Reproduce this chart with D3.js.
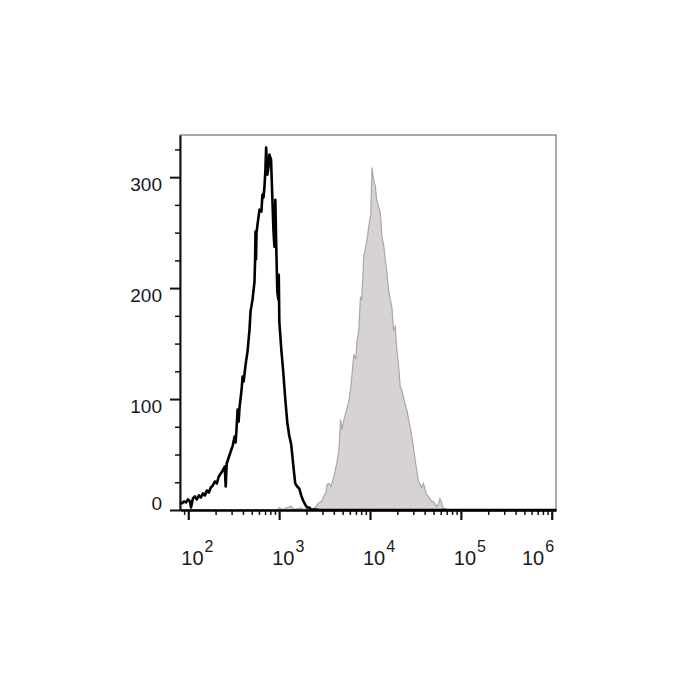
<!DOCTYPE html>
<html lang="en">
<head>
    <meta charset="UTF-8">
    <title>Flow cytometry histogram</title>
    <script src="https://d3js.org/d3.v7.min.js"></script>
    <style>
        body { margin: 0; background: #fff; }
        text { font-family: "Liberation Sans", Arial, sans-serif; fill: #1a1a1a; }
    </style>
</head>
<body>
    <svg id="chart" width="700" height="700"></svg>
    <script>
        // log10 fluorescence / event count
        const ctrlLog = [1.909, 1.931, 1.953, 1.975, 1.997, 2.019, 2.030, 2.051, 2.073, 2.095,
            2.117, 2.139, 2.161, 2.183, 2.204, 2.226, 2.248, 2.270, 2.292, 2.314,
            2.336, 2.357, 2.379, 2.401, 2.412, 2.423, 2.445, 2.467, 2.489, 2.510,
            2.521, 2.532, 2.543, 2.554, 2.565, 2.587, 2.598, 2.609, 2.631, 2.652,
            2.674, 2.685, 2.707, 2.729, 2.735, 2.740, 2.746, 2.751, 2.762, 2.784,
            2.805, 2.816, 2.827, 2.838, 2.849, 2.857, 2.871, 2.882, 2.893, 2.911,
            2.926, 2.937, 2.948, 2.958, 2.969, 2.980, 2.991, 2.996, 3.002, 3.024,
            3.046, 3.068, 3.090, 3.111, 3.133, 3.155, 3.177, 3.199, 3.221, 3.243,
            3.264, 3.286, 3.308, 3.330, 3.352, 3.396, 3.450, 6.050];
        const ctrlCount = [6.8, 5.9, 7.7, 6.8, 9.5, 7.7, 2.3, 10.4, 12.2, 9.5,
            13.1, 11.3, 14.9, 13.1, 17.6, 15.8, 20.3, 22.1, 25.7, 23.9,
            30.2, 32.9, 35.6, 39.2, 21.2, 41.9, 47.3, 52.7, 58.1, 66.2,
            60.8, 74.3, 90.5, 79.7, 93.2, 108.6, 120.3, 115.8, 131.1, 142.8,
            162.6, 178.8, 189.6, 205.9, 224, 251, 226, 250, 257.2, 270.7,
            268.9, 284.2, 281.5, 290.5, 306.8, 326.6, 302.3, 308.6, 320.3, 315.8,
            279.7, 252.7, 237.4, 279.7, 234.7, 196.8, 189.6, 212, 169.8, 144.6,
            123.9, 99.5, 78.8, 67.1, 59, 41, 23.9, 21.2, 19.4, 13.1,
            8.6, 5, 2.3, 2.3, 0.5, 0.5, 0, 0];

        const stainLog = [1.909, 2.980, 3.002, 3.035, 3.130, 3.166, 3.239, 3.275, 3.330, 3.363,
            3.407, 3.439, 3.461, 3.494, 3.516, 3.527, 3.549, 3.570, 3.603, 3.636,
            3.658, 3.677, 3.691, 3.713, 3.734, 3.767, 3.789, 3.800, 3.822, 3.844,
            3.855, 3.877, 3.895, 3.909, 3.931, 3.953, 3.975, 3.986, 4.008, 4.022,
            4.040, 4.059, 4.073, 4.095, 4.114, 4.131, 4.150, 4.168, 4.186, 4.204,
            4.223, 4.240, 4.259, 4.278, 4.295, 4.314, 4.332, 4.350, 4.368, 4.404,
            4.441, 4.478, 4.496, 4.532, 4.568, 4.587, 4.623, 4.642, 4.678, 4.696,
            4.732, 4.751, 4.770, 4.784, 4.805, 4.827, 4.860, 6.050];
        const stainCount = [0, 0, 2.3, 0.5, 3.4, 0.5, 2.0, 0.5, 1, 0,
            3.2, 6.8, 6.8, 13.1, 15.8, 23, 23.9, 21.2, 30.2, 42.8,
            54.5, 81.5, 72.5, 81.5, 87.8, 97.7, 111.3, 120.3, 140.1, 135.6,
            150.9, 162.6, 192.3, 189.6, 228.4, 237.4, 248.2, 255.4, 266.2, 308.6,
            297.7, 291.4, 279.7, 273.4, 268, 246.4, 239.2, 225.7, 214, 198.6,
            189.6, 183.3, 162.6, 165.3, 144.6, 131.1, 111.3, 108.6, 101.4, 90.5,
            75.2, 57.2, 45.5, 26.6, 20.3, 23.9, 14, 12.2, 7.7, 7.7,
            3.2, 5, 10.4, 7.7, 1.4, 1.4, 0, 0];

        const yTicks = [0, 100, 200, 300];
        const decades = [2, 3, 4, 5, 6];

        const svg = d3.select("#chart");
        const mLeft = 180, mRight = 556, mTop = 135, mBottom = 510;

        const x = d3.scaleLog().domain([10 ** 1.909, 10 ** 6.047]).range([mLeft, mRight]);
        const y = d3.scaleLinear().domain([0, 338]).range([mBottom, mTop]);

        const ctrl = ctrlLog.map((v, i) => ({ v: 10 ** v, c: ctrlCount[i] }));
        const stain = stainLog.map((v, i) => ({ v: 10 ** v, c: stainCount[i] }));

        // frame
        svg.append("rect")
            .attr("x", mLeft).attr("y", mTop)
            .attr("width", mRight - mLeft).attr("height", mBottom - mTop)
            .attr("fill", "none").attr("stroke", "#555").attr("stroke-width", 1);

        // stained sample, filled grey
        svg.append("path")
            .datum(stain)
            .attr("fill", "#d6d3d2")
            .attr("stroke", "#aaa8a7")
            .attr("stroke-width", 1.2)
            .attr("d", d3.area().x(d => x(d.v)).y0(y(0)).y1(d => y(d.c)));

        // control, black line
        svg.append("path")
            .datum(ctrl)
            .attr("fill", "none")
            .attr("stroke", "#000")
            .attr("stroke-width", 2.6)
            .attr("stroke-linejoin", "round")
            .attr("d", d3.line().x(d => x(d.v)).y(d => y(d.c)));

        // y axis: majors every 100, minors every 25
        const yMinor = d3.range(25, 338, 25).filter(d => d % 100 !== 0);
        svg.append("g")
            .attr("transform", `translate(${mLeft},0)`)
            .call(d3.axisLeft(y).tickValues(yMinor).tickSize(5).tickFormat(""))
            .call(g => g.select(".domain").remove())
            .call(g => g.selectAll("line").attr("stroke", "#111").attr("stroke-width", 1.5));

        const yAxis = svg.append("g")
            .attr("transform", `translate(${mLeft},0)`)
            .call(d3.axisLeft(y).tickValues(yTicks).tickSize(10).tickSizeOuter(0).tickPadding(8));
        yAxis.select(".domain").attr("stroke", "#111").attr("stroke-width", 2);
        yAxis.selectAll("line").attr("stroke", "#111").attr("stroke-width", 2);
        yAxis.selectAll("text")
            .attr("font-family", "Liberation Sans, Arial, sans-serif")
            .attr("font-size", 19)
            .attr("fill", "#1a1a1a")
            .attr("dy", d => d === 0 ? "-0.05em" : "0.72em");

        // x axis: log decades with 2..9 minors
        const xMinor = [];
        for (let e = 1; e <= 5; e++) for (let m = 2; m <= 9; m++) {
            const v = m * 10 ** e;
            if (v >= x.domain()[0] && v <= x.domain()[1]) xMinor.push(v);
        }
        svg.append("g")
            .attr("transform", `translate(0,${mBottom})`)
            .call(d3.axisBottom(x).tickValues(xMinor).tickSize(5).tickFormat(""))
            .call(g => g.select(".domain").remove())
            .call(g => g.selectAll("line").attr("stroke", "#111").attr("stroke-width", 1.5));

        const xAxis = svg.append("g")
            .attr("transform", `translate(0,${mBottom})`)
            .call(d3.axisBottom(x).tickValues(decades.map(e => 10 ** e))
                .tickSize(10).tickSizeOuter(0).tickFormat(""));
        xAxis.select(".domain").attr("stroke", "#000").attr("stroke-width", 2.5);
        xAxis.selectAll("line").attr("stroke", "#111").attr("stroke-width", 2.2);

        const labels = svg.append("g").selectAll("text")
            .data(decades)
            .join("text")
            .attr("x", e => Math.min(x(10 ** e) - 7, mRight - 34))
            .attr("y", mBottom + 55)
            .attr("font-size", 20);
        labels.append("tspan").text("10");
        labels.append("tspan")
            .attr("dx", 1)
            .attr("dy", -13)
            .attr("font-size", 16)
            .text(e => e);
    </script>
</body>
</html>
